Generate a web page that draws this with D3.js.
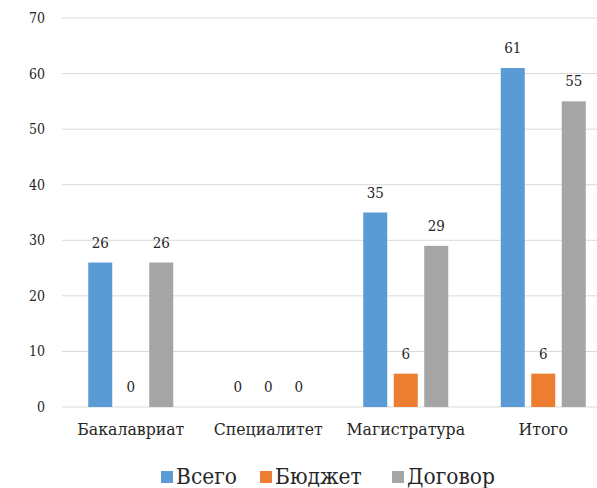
<!DOCTYPE html>
<html>
<head>
<meta charset="utf-8">
<script src="https://cdn.jsdelivr.net/npm/d3@7"></script>
<style>
  html, body { margin: 0; padding: 0; background: #fff; }
  svg { display: block; }
  text { font-family: "DejaVu Serif Condensed", "DejaVu Serif", serif; fill: #262626; }
</style>
</head>
<body>
<svg id="chart" width="597" height="488"></svg>
<script>
const categories = ["Бакалавриат", "Специалитет", "Магистратура", "Итого"];
const seriesNames = ["Всего", "Бюджет", "Договор"];
const vsego   = [26, 0, 35, 61];
const budget  = [0, 0, 6, 6];
const dogovor = [26, 0, 29, 55];
const yTicks = [0, 10, 20, 30, 40, 50, 60, 70];
const colors = ["#5B9BD5", "#ED7D31", "#A5A5A5"];

const seriesValues = [vsego, budget, dogovor];
const W = 597, H = 488;
const svg = d3.select("#chart");

const y = d3.scaleLinear().domain([0, 70]).range([407, 18]);
const x0 = d3.scaleBand().domain(categories).range([62, 612]).padding(0);
const groupW = 85;
const x1 = d3.scaleBand().domain(seriesNames)
  .range([(x0.bandwidth() - groupW) / 2, (x0.bandwidth() + groupW) / 2])
  .paddingInner(0.213).paddingOuter(0);

// gridlines
svg.append("g").selectAll("line").data(yTicks).join("line")
  .attr("x1", 62).attr("x2", W)
  .attr("y1", d => y(d)).attr("y2", d => y(d))
  .attr("stroke", "#D9D9D9").attr("stroke-width", 1);

// y axis labels
const yAxis = d3.axisLeft(y).tickValues(yTicks).tickSize(0).tickPadding(0);
const yg = svg.append("g").attr("transform", "translate(45,0)").call(yAxis);
yg.select(".domain").remove();
yg.selectAll("text").attr("font-size", 14).style("font-family", "'DejaVu Serif Condensed', 'DejaVu Serif', serif").attr("fill", "#262626");

// bars
const groups = svg.append("g").selectAll("g").data(categories).join("g")
  .attr("transform", c => `translate(${x0(c)},0)`);

groups.each(function(c, ci) {
  const g = d3.select(this);
  const rows = seriesNames.map((s, si) => ({ s, si, v: seriesValues[si][ci] }));
  g.selectAll("rect").data(rows).join("rect")
    .attr("x", d => x1(d.s))
    .attr("width", x1.bandwidth())
    .attr("y", d => y(d.v))
    .attr("height", d => y(0) - y(d.v))
    .attr("fill", d => colors[d.si]);
  g.selectAll("text.val").data(rows).join("text")
    .attr("class", "val")
    .attr("x", d => x1(d.s) + x1.bandwidth() / 2)
    .attr("y", d => y(d.v) - 15)
    .attr("text-anchor", "middle")
    .attr("font-size", 15)
    .text(d => d.v);
});

// x axis labels
const xAxis = d3.axisBottom(x0).tickSize(0).tickPadding(0);
const xg = svg.append("g").attr("transform", "translate(0,423)").call(xAxis);
xg.select(".domain").remove();
xg.selectAll("text").attr("font-size", 17.5).attr("dy", "0.71em")
  .style("font-family", "'DejaVu Serif Condensed', 'DejaVu Serif', serif").attr("fill", "#262626");

// legend
const legendX = [161, 260, 392];
const lg = svg.append("g").selectAll("g").data(seriesNames).join("g")
  .attr("transform", (d, i) => `translate(${legendX[i]},0)`);
lg.append("rect").attr("x", 0).attr("y", 471).attr("width", 12).attr("height", 12)
  .attr("fill", (d, i) => colors[i]);
lg.append("text").attr("x", 15).attr("y", 484).attr("font-size", 22.5).text(d => d);
</script>
</body>
</html>
